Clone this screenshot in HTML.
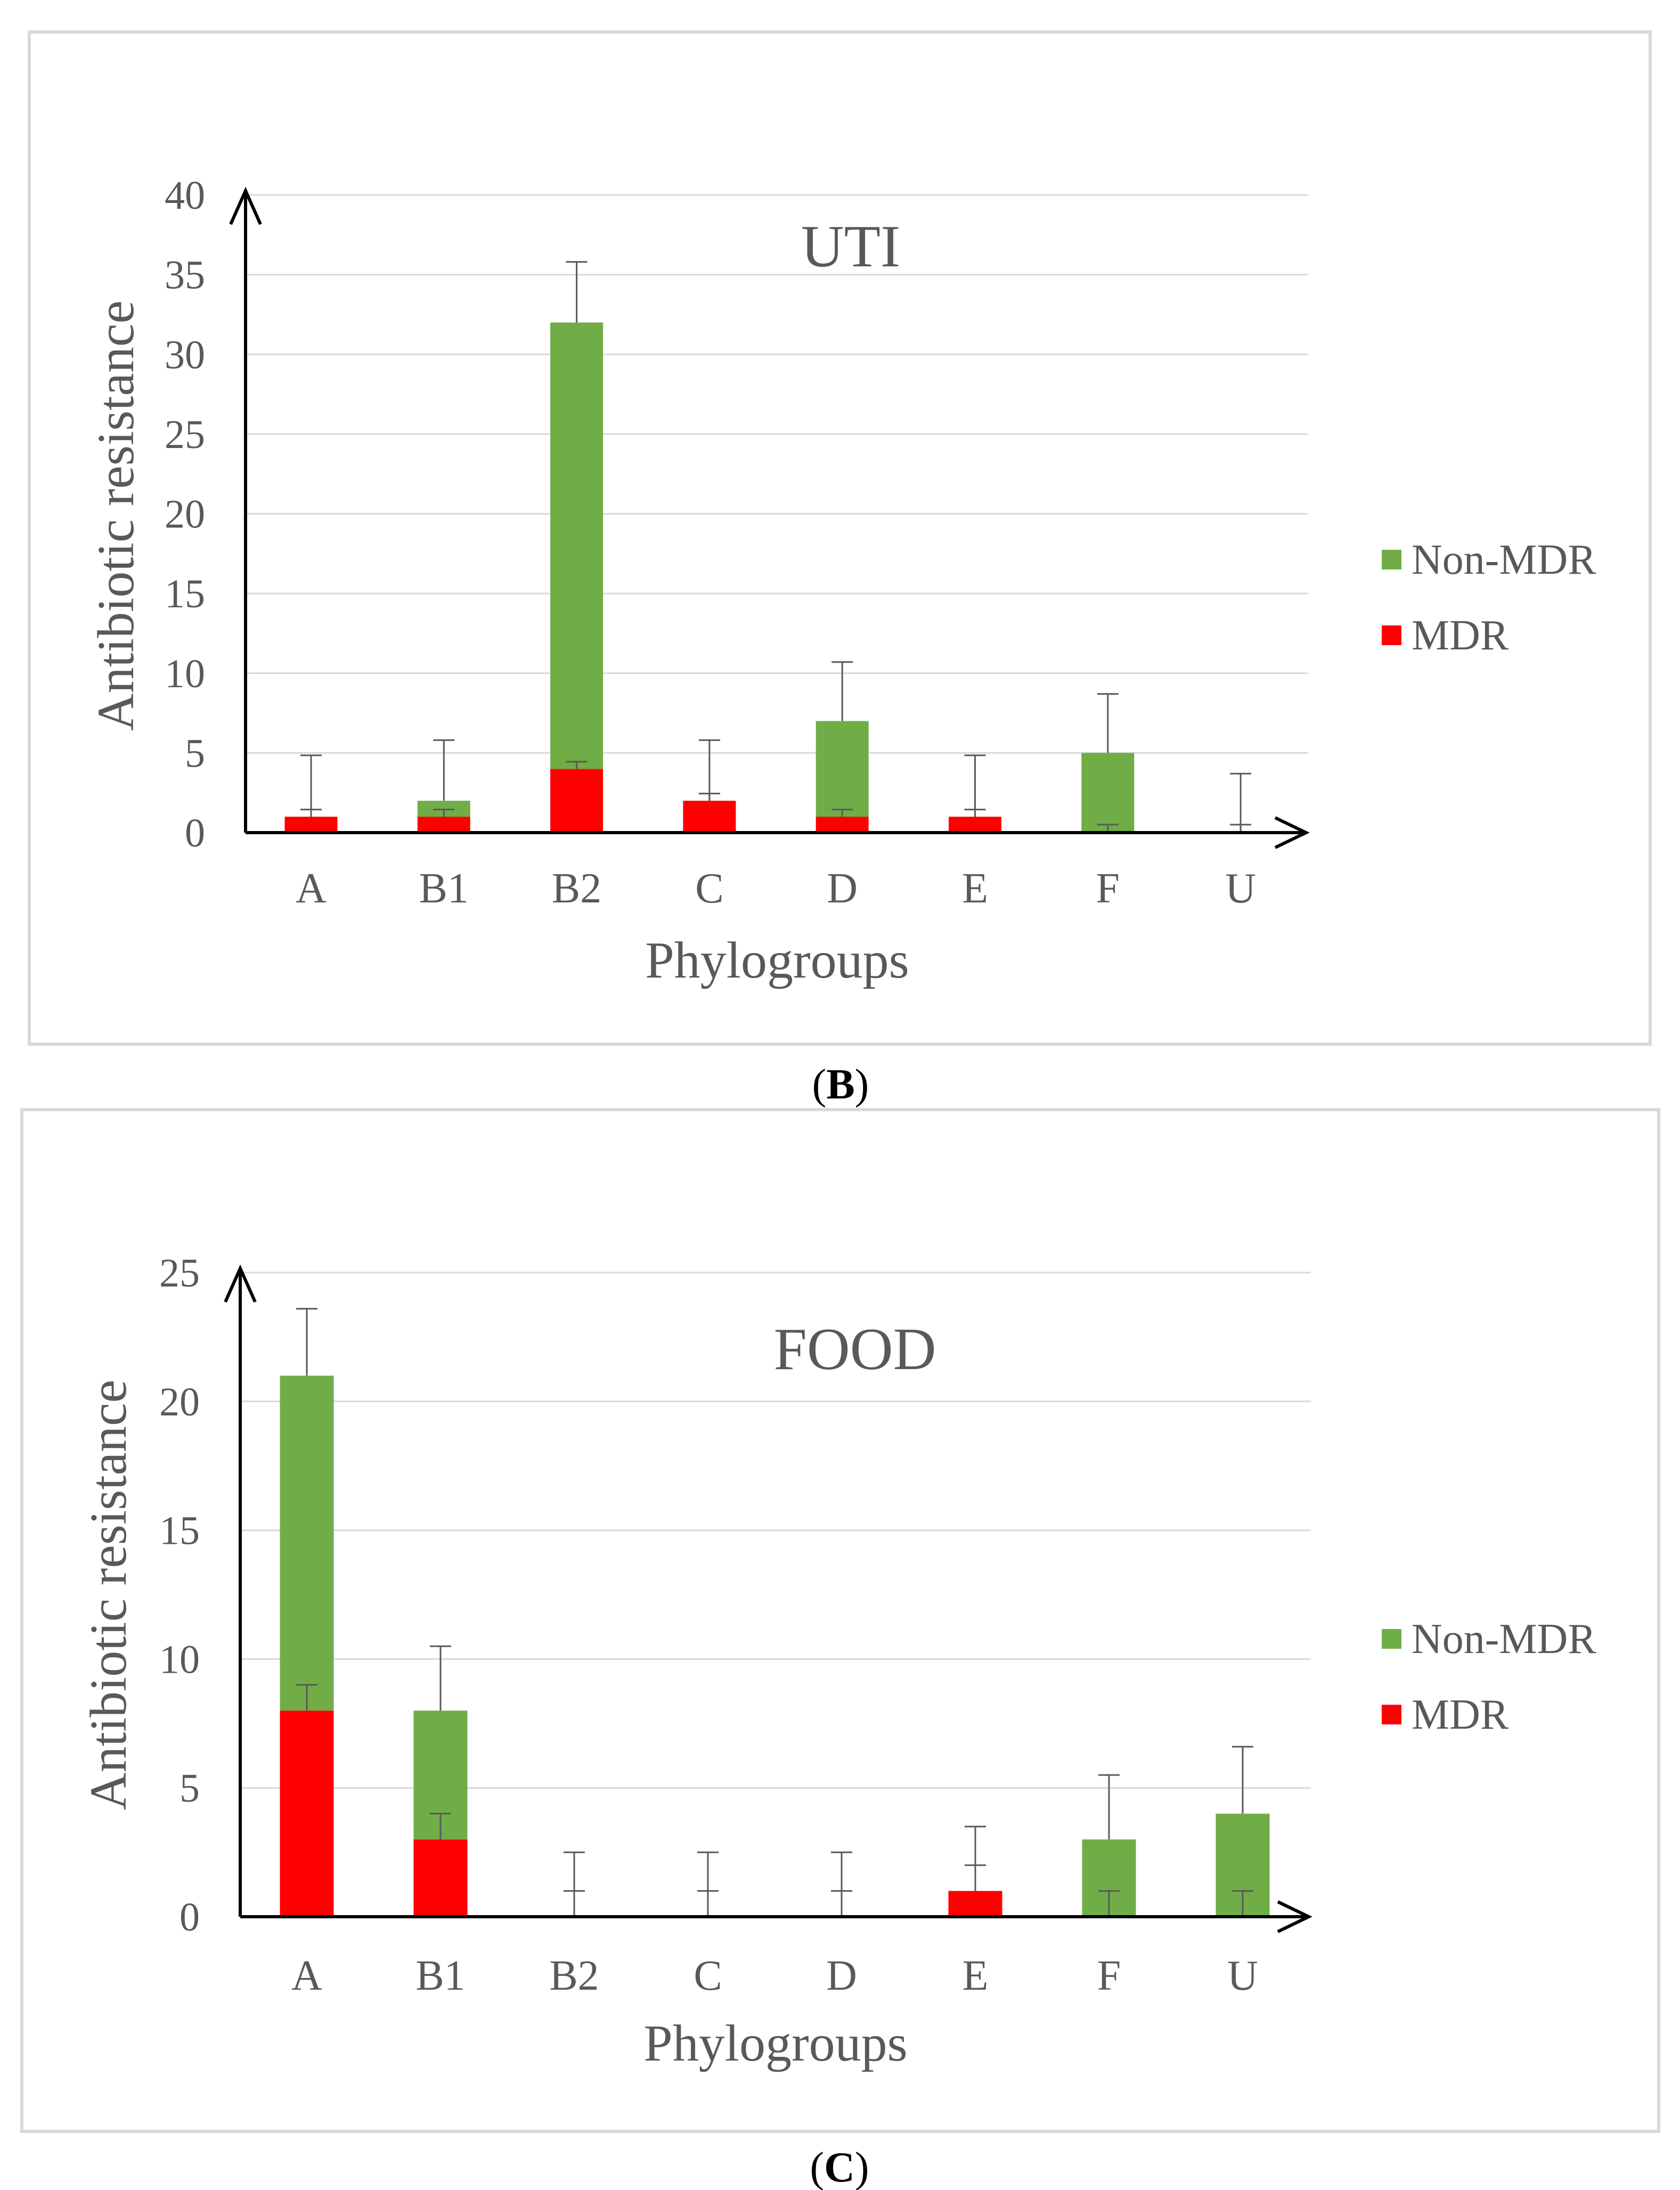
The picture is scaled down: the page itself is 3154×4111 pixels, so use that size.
<!DOCTYPE html>
<html><head><meta charset="utf-8"><style>
html,body{margin:0;padding:0;background:#fff;}
svg{display:block;font-family:"Liberation Serif",serif;}
</style></head><body>
<svg id="svg" width="3154" height="4111" viewBox="0 0 3154 4111" xmlns="http://www.w3.org/2000/svg">
<rect x="55" y="60" width="3043" height="1900" fill="#fff" stroke="#d9d9d9" stroke-width="6"/>
<rect x="41" y="2083" width="3073" height="1918" fill="#fff" stroke="#d9d9d9" stroke-width="6"/>
<text x="1578" y="2062" font-size="80" text-anchor="middle" fill="#000">(<tspan font-weight="bold">B</tspan>)</text>
<text x="1576" y="4095" font-size="80" text-anchor="middle" fill="#000">(<tspan font-weight="bold">C</tspan>)</text>
<g id="g1"></g><g id="g2"></g>
</svg>
<script>
const categories=["A","B1","B2","C","D","E","F","U"];
const utiMDR=[1,1,4,2,1,1,0,0];
const utiNonMDR=[0,1,28,0,6,0,5,0];
const utiMDRErr=[0.45,0.45,0.45,0.45,0.45,0.45,0.5,0.5];
const utiNonMDRErr=[3.85,3.8,3.8,3.8,3.7,3.85,3.7,3.7];
const utiTicks=[0,5,10,15,20,25,30,35,40];
const foodMDR=[8,3,0,0,0,1,0,0];
const foodNonMDR=[13,5,0,0,0,0,3,4];
const foodMDRErr=[1,1,1,1,1,1,1,1];
const foodNonMDRErr=[2.6,2.5,2.5,2.5,2.5,2.5,2.5,2.6];
const foodTicks=[0,5,10,15,20,25];
const NS="http://www.w3.org/2000/svg";
function mk(p,tag,at,txt){const e=document.createElementNS(NS,tag);for(const k in at)e.setAttribute(k,at[k]);if(txt!==undefined)e.textContent=txt;p.appendChild(e);return e;}
function chart(g,cfg,mdr,non,mdrE,nonE,ticks,title){
  const max=ticks[ticks.length-1];
  const y=v=>cfg.y0-(v/max)*(cfg.y0-cfg.yTop);
  const x=i=>cfg.x0c+i*cfg.step;
  ticks.forEach(t=>{
    if(t>0){const l=mk(g,"line",{x1:cfg.ax,x2:cfg.gx,y1:y(t),y2:y(t),stroke:"#d9d9d9","stroke-width":3});
    
    }
    const tl=mk(g,"text",{x:cfg.ax-76,y:y(t)+26,"font-size":76,"text-anchor":"end",fill:"#595959"},t);
    
    
  });
  categories.forEach((c,i)=>{
    const bw=cfg.bw;
    if(mdr[i]>0){const r=mk(g,"rect",{x:x(i)-bw/2,y:y(mdr[i]),width:bw,height:y(0)-y(mdr[i]),fill:"#ff0000"});
    
    }
    if(non[i]>0){const r=mk(g,"rect",{x:x(i)-bw/2,y:y(mdr[i]+non[i]),width:bw,height:y(mdr[i])-y(mdr[i]+non[i]),fill:"#70ad47"});
    
    }
    [[mdr[i],mdrE[i]],[mdr[i]+non[i],nonE[i]]].forEach(([b,e])=>{
      const eg=mk(g,"g",{stroke:"#595959","stroke-width":3});
      
      
      mk(eg,"line",{x1:x(i),x2:x(i),y1:y(b),y2:y(b+e)});
      mk(eg,"line",{x1:x(i)-20,x2:x(i)+20,y1:y(b+e),y2:y(b+e)});
    });
    const tl=mk(g,"text",{x:x(i),y:cfg.labY,"font-size":80,"text-anchor":"middle",fill:"#595959"},c);
    
    
  });
  const ax=mk(g,"path",{d:`M${cfg.ax} ${y(0)} V${cfg.yTop-8} M${cfg.ax-28} ${cfg.yTop+55} L${cfg.ax} ${cfg.yTop-8} L${cfg.ax+28} ${cfg.yTop+55} M${cfg.ax} ${y(0)} H${cfg.gx-4} M${cfg.gx-62} ${y(0)-28} L${cfg.gx-4} ${y(0)} L${cfg.gx-62} ${y(0)+28}`,stroke:"#000","stroke-width":6,fill:"none"});
  
  
  const tt=mk(g,"text",{x:cfg.titleX,y:cfg.titleY,"font-size":112,"text-anchor":"middle",fill:"#595959"},title);
  
  
  const xt=mk(g,"text",{x:cfg.xtX,y:cfg.xtY,"font-size":98,"text-anchor":"middle",fill:"#595959"},"Phylogroups");
  
  
  const yt=mk(g,"text",{x:0,y:0,"font-size":98,"text-anchor":"middle",fill:"#595959",transform:`translate(${cfg.ytX},${cfg.ytY}) rotate(-90)`},"Antibiotic resistance");
  
  
  [["#70ad47","Non-MDR",cfg.legY],["#ff0000","MDR",cfg.legY+142]].forEach(([col,lab,ly])=>{
    const lg=mk(g,"g",{});
    
    
    mk(lg,"rect",{x:2594,y:ly,width:37,height:37,fill:col});
    mk(lg,"text",{x:2650,y:ly+45,"font-size":80,fill:"#595959"},lab);
  });
}
chart(document.getElementById("g1"),{ax:461,gx:2456,y0:1563,yTop:366,x0c:584,step:249.3,bw:99,labY:1694,titleX:1597,titleY:500,xtX:1459,xtY:1835,ytX:250,ytY:968,legY:1032},utiMDR,utiNonMDR,utiMDRErr,utiNonMDRErr,utiTicks,"UTI");
chart(document.getElementById("g2"),{ax:451,gx:2461,y0:3598,yTop:2389,x0c:576,step:251,bw:101,labY:3735,titleX:1605,titleY:2570,xtX:1456,xtY:3868,ytX:236,ytY:2994,legY:3058},foodMDR,foodNonMDR,foodMDRErr,foodNonMDRErr,foodTicks,"FOOD");
</script>
</body></html>
